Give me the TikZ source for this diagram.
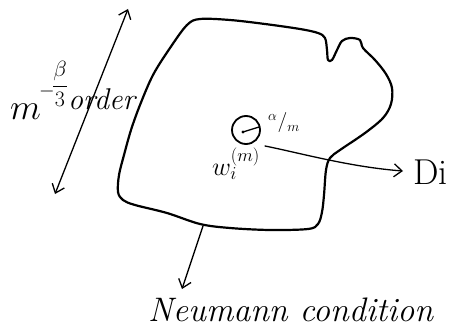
\RequirePackage{fix-cm}
\documentclass[tikz,border=0pt]{standalone}
\usetikzlibrary{arrows.meta}
\begin{document}
\begin{tikzpicture}[x=1pt,y=-1pt,
  outline/.style={line width=2.2pt,line join=round,line cap=round},
  pen/.style={line width=1.3pt,line cap=round},
  barb/.tip={Straight Barb[length=8pt,width=13pt,line width=1.3pt]},
  hand/.style={inner sep=0pt}]
\useasboundingbox (0,0) rectangle (449,334);
% domain outline
\draw[outline] plot[smooth cycle,tension=0.55] coordinates {
 (187,25) (200,19) (230,20) (265,24) (300,29) (318,33) (325,38) (327,50) (328,60) (332,60)
 (337,50) (342,41) (350,38) (360,40) (363,48) (375,60) (386,74) (392,88) (391,104)
 (383,118) (365,133) (340,150) (330,158) (326,170) (324,195) (322,212) (318,224) (308,229)
 (270,230) (230,228) (200,224) (167,213) (135,205) (123,200) (118,192) (119,175)
 (124,155) (131,130) (140,105) (153,75) (170,48)};
% small circle
\coordinate (cc) at (246,130);
\draw[line width=1.8pt] (cc) circle[radius=14];
\coordinate (rc) at (243,132);
\coordinate (re) at (259,127);
\fill (rc) circle[radius=1.6];
\draw[pen] (rc) -- (re);
\node[hand,anchor=west,font=\fontsize{20}{22}\selectfont] (am) at (268,123) {$^{\alpha}/_{m}$};
\node[hand,font=\fontsize{26}{28}\selectfont] (w) at (236,164) {$w_i^{(m)}$};
% arrow to Di
\coordinate (ds) at (265,146);
\node[hand,anchor=base west,font=\fontsize{36}{40}\selectfont] (di) at (413,184) {Di};
\coordinate (de) at (403,171);
\draw[pen,-barb] (ds) .. controls (300,153) and (350,167) .. (de);
% arrow to Neumann
\coordinate (ns) at (203,226);
\coordinate (ne) at (182,289);
\draw[pen,-barb] (ns) -- (ne);
\node[hand,anchor=base west,font=\fontsize{34}{38}\selectfont\itshape] (neu) at (148,321) {Neumann condition};
% size arrow
\coordinate (ta) at (128,9);
\coordinate (tb) at (55,194);
\draw[pen,barb-barb] (ta) -- (tb);
\node[hand,anchor=base west,font=\fontsize{36}{40}\selectfont] (m) at (10,119) {$m$};
\node[hand,font=\fontsize{20}{22}\selectfont] (mi) at (47,92) {$-$};
\node[hand,font=\fontsize{22}{24}\selectfont] (fr) at (60,84) {$\displaystyle\frac{\beta}{3}$};
\node[hand,anchor=base west,font=\fontsize{30}{34}\selectfont\itshape] (ord) at (68,110) {order};
\end{tikzpicture}
\end{document}
